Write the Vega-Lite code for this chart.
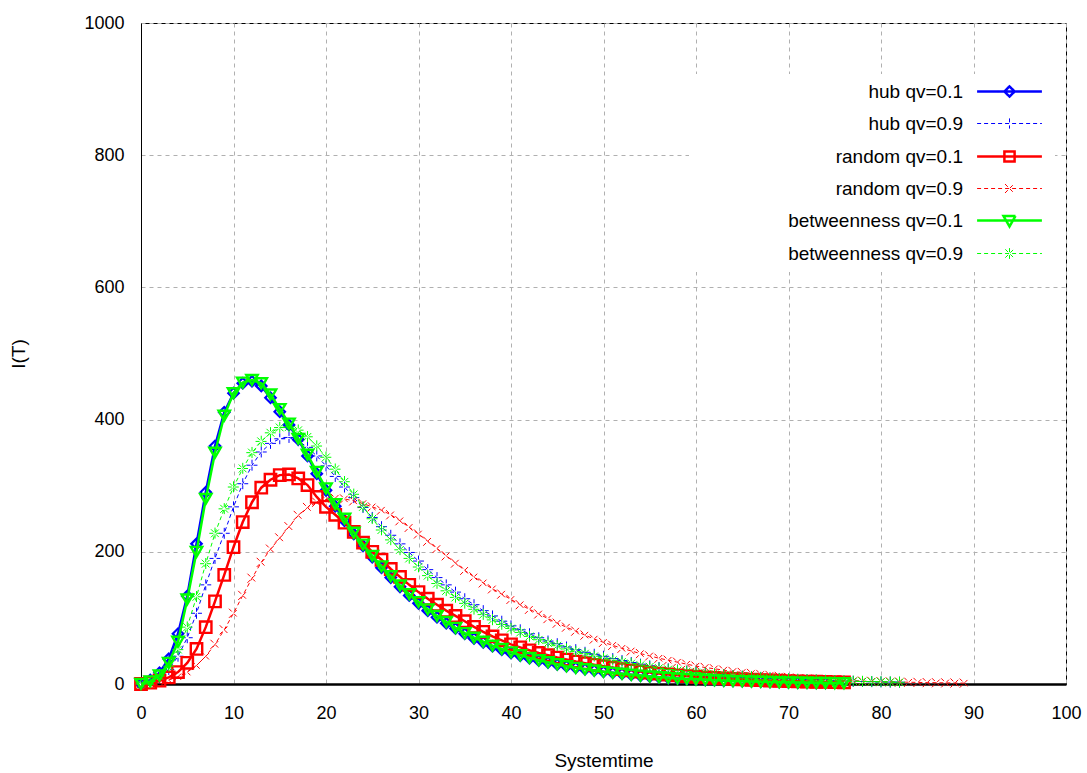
{
  "$schema": "https://vega.github.io/schema/vega-lite/v6.json",
  "width": 925,
  "height": 661,
  "autosize": {"type": "none"},
  "padding": {"left": 141, "top": 23, "right": 21, "bottom": 89},
  "background": "white",
  "config": {
    "view": {"stroke": "#000000", "strokeWidth": 1},
    "font": "Liberation Sans",
    "axis": {
      "labelFont": "Liberation Sans",
      "labelFontSize": 18,
      "labelColor": "#000000",
      "titleFont": "Liberation Sans",
      "titleFontSize": 19,
      "titleFontWeight": "normal",
      "titleColor": "#000000",
      "ticks": false,
      "tickSize": 0,
      "grid": true,
      "gridColor": "#b0b0b0",
      "gridDash": [4, 4],
      "gridWidth": 1,
      "domainColor": "#000000",
      "labelFlush": false
    }
  },
  "data": {
    "values": [
      {"t":0,"h1":0,"h9":0,"r1":0,"r9":0,"b1":0,"b9":0},
      {"t":1,"h1":6,"h9":3,"r1":2,"r9":1,"b1":4,"b9":4},
      {"t":2,"h1":17,"h9":10,"r1":5,"r9":3,"b1":13,"b9":12},
      {"t":3,"h1":38,"h9":22,"r1":10,"r9":6,"b1":32,"b9":27},
      {"t":4,"h1":76,"h9":42,"r1":18,"r9":11,"b1":64,"b9":52},
      {"t":5,"h1":133,"h9":70,"r1":32,"r9":18,"b1":128,"b9":86},
      {"t":6,"h1":212,"h9":107,"r1":53,"r9":28,"b1":200,"b9":132},
      {"t":7,"h1":290,"h9":150,"r1":86,"r9":42,"b1":280,"b9":182},
      {"t":8,"h1":360,"h9":190,"r1":125,"r9":60,"b1":350,"b9":228},
      {"t":9,"h1":411,"h9":228,"r1":165,"r9":82,"b1":406,"b9":265},
      {"t":10,"h1":440,"h9":268,"r1":207,"r9":107,"b1":440,"b9":298},
      {"t":11,"h1":455,"h9":303,"r1":245,"r9":134,"b1":456,"b9":326},
      {"t":12,"h1":458,"h9":331,"r1":275,"r9":160,"b1":460,"b9":350},
      {"t":13,"h1":451,"h9":351,"r1":297,"r9":184,"b1":455,"b9":367},
      {"t":14,"h1":433,"h9":364,"r1":309,"r9":204,"b1":438,"b9":380},
      {"t":15,"h1":412,"h9":371,"r1":316,"r9":221,"b1":416,"b9":388},
      {"t":16,"h1":392,"h9":373,"r1":317,"r9":238,"b1":394,"b9":389},
      {"t":17,"h1":370,"h9":368,"r1":311,"r9":255,"b1":371,"b9":384},
      {"t":18,"h1":345,"h9":358,"r1":301,"r9":267,"b1":347,"b9":374},
      {"t":19,"h1":318,"h9":345,"r1":283,"r9":275,"b1":321,"b9":360},
      {"t":20,"h1":293,"h9":330,"r1":268,"r9":279,"b1":296,"b9":343},
      {"t":21,"h1":269,"h9":314,"r1":256,"r9":281,"b1":272,"b9":325},
      {"t":22,"h1":247,"h9":298,"r1":244,"r9":280,"b1":250,"b9":306},
      {"t":23,"h1":227,"h9":282,"r1":230,"r9":277,"b1":229,"b9":287},
      {"t":24,"h1":209,"h9":267,"r1":214,"r9":273,"b1":211,"b9":268},
      {"t":25,"h1":192,"h9":252,"r1":200,"r9":268,"b1":194,"b9":250},
      {"t":26,"h1":176,"h9":238,"r1":188,"r9":263,"b1":178,"b9":233},
      {"t":27,"h1":161,"h9":225,"r1":174,"r9":256,"b1":163,"b9":218},
      {"t":28,"h1":147,"h9":212,"r1":162,"r9":247,"b1":149,"b9":203},
      {"t":29,"h1":134,"h9":199,"r1":150,"r9":237,"b1":136,"b9":190},
      {"t":30,"h1":122,"h9":186,"r1":139,"r9":227,"b1":124,"b9":177},
      {"t":31,"h1":111,"h9":173,"r1":129,"r9":216,"b1":113,"b9":164},
      {"t":32,"h1":101,"h9":161,"r1":120,"r9":205,"b1":103,"b9":152},
      {"t":33,"h1":92,"h9":150,"r1":111,"r9":194,"b1":94,"b9":141},
      {"t":34,"h1":84,"h9":139,"r1":103,"r9":183,"b1":85,"b9":131},
      {"t":35,"h1":76,"h9":129,"r1":95,"r9":172,"b1":77,"b9":122},
      {"t":36,"h1":69,"h9":120,"r1":86.5,"r9":162,"b1":70,"b9":113},
      {"t":37,"h1":63,"h9":111,"r1":79,"r9":153,"b1":64,"b9":105},
      {"t":38,"h1":57,"h9":103,"r1":72,"r9":144,"b1":58,"b9":97},
      {"t":39,"h1":52,"h9":95,"r1":66,"r9":136,"b1":53,"b9":90},
      {"t":40,"h1":47,"h9":88,"r1":60,"r9":128,"b1":48,"b9":84},
      {"t":41,"h1":43,"h9":82,"r1":55.5,"r9":120,"b1":43.5,"b9":78},
      {"t":42,"h1":39,"h9":76,"r1":51,"r9":113,"b1":39.5,"b9":72},
      {"t":43,"h1":35.5,"h9":70,"r1":47,"r9":106,"b1":36,"b9":67},
      {"t":44,"h1":32.5,"h9":65,"r1":43.5,"r9":99,"b1":33,"b9":62},
      {"t":45,"h1":29.5,"h9":61,"r1":40,"r9":92,"b1":30,"b9":58},
      {"t":46,"h1":27,"h9":56,"r1":37,"r9":86,"b1":27,"b9":53},
      {"t":47,"h1":24.5,"h9":52,"r1":34,"r9":80,"b1":24.5,"b9":49},
      {"t":48,"h1":22.5,"h9":48,"r1":31.5,"r9":74,"b1":22.5,"b9":46},
      {"t":49,"h1":20.5,"h9":45,"r1":29,"r9":68,"b1":20.5,"b9":42},
      {"t":50,"h1":18.5,"h9":42,"r1":27,"r9":63,"b1":18.5,"b9":39},
      {"t":51,"h1":17,"h9":38.5,"r1":24.7,"r9":58.5,"b1":17,"b9":36},
      {"t":52,"h1":15.5,"h9":35.5,"r1":22.5,"r9":54,"b1":15.5,"b9":33.5},
      {"t":53,"h1":14,"h9":32.5,"r1":20.6,"r9":50,"b1":14,"b9":31},
      {"t":54,"h1":12.6,"h9":30,"r1":18.8,"r9":46,"b1":12.7,"b9":28.5},
      {"t":55,"h1":11.4,"h9":27.5,"r1":17.2,"r9":42.5,"b1":11.5,"b9":26},
      {"t":56,"h1":10.3,"h9":25,"r1":15.7,"r9":39,"b1":10.4,"b9":24},
      {"t":57,"h1":9.3,"h9":23,"r1":14.4,"r9":36,"b1":9.4,"b9":22},
      {"t":58,"h1":8.4,"h9":21,"r1":13.1,"r9":33,"b1":8.5,"b9":20.5},
      {"t":59,"h1":7.6,"h9":19.5,"r1":12,"r9":30,"b1":7.7,"b9":19},
      {"t":60,"h1":6.9,"h9":18,"r1":11,"r9":27,"b1":7,"b9":17.5},
      {"t":61,"h1":6.2,"h9":16.5,"r1":10,"r9":25,"b1":6.3,"b9":16},
      {"t":62,"h1":5.6,"h9":15,"r1":9.2,"r9":23,"b1":5.7,"b9":14.8},
      {"t":63,"h1":5.1,"h9":14,"r1":8.4,"r9":21,"b1":5.2,"b9":13.6},
      {"t":64,"h1":4.6,"h9":12.8,"r1":7.7,"r9":19,"b1":4.7,"b9":12.5},
      {"t":65,"h1":4.1,"h9":11.8,"r1":7,"r9":17.5,"b1":4.2,"b9":11.5},
      {"t":66,"h1":3.7,"h9":10.8,"r1":6.4,"r9":16,"b1":3.8,"b9":10.6},
      {"t":67,"h1":3.3,"h9":10,"r1":5.8,"r9":14.5,"b1":3.4,"b9":9.7},
      {"t":68,"h1":3,"h9":9,"r1":5.3,"r9":13,"b1":3.1,"b9":9},
      {"t":69,"h1":2.7,"h9":8.3,"r1":4.9,"r9":11.5,"b1":2.8,"b9":8.2},
      {"t":70,"h1":2.4,"h9":7.6,"r1":4.4,"r9":10,"b1":2.5,"b9":7.5},
      {"t":71,"h1":2.1,"h9":7,"r1":4,"r9":9,"b1":2.2,"b9":6.9},
      {"t":72,"h1":1.9,"h9":6.4,"r1":3.7,"r9":8,"b1":2,"b9":6.3},
      {"t":73,"h1":1.7,"h9":5.9,"r1":3.4,"r9":7.3,"b1":1.8,"b9":5.8},
      {"t":74,"h1":1.5,"h9":5.4,"r1":3.1,"r9":6.6,"b1":1.6,"b9":5.3},
      {"t":75,"h9":5,"r1":2.8,"r9":6,"b1":1.4,"b9":4.9},
      {"t":76,"h9":4.5,"r1":2.6,"r9":5.4,"b1":1.2,"b9":4.5},
      {"t":77,"h9":4.1,"r9":4.9,"b9":4.1},
      {"t":78,"h9":3.8,"r9":4.4,"b9":3.8},
      {"t":79,"h9":3.5,"r9":4,"b9":3.5},
      {"t":80,"h9":3.2,"r9":3.6,"b9":3.2},
      {"t":81,"h9":2.9,"r9":3.3,"b9":2.9},
      {"t":82,"h9":2.7,"r9":3,"b9":2.6},
      {"t":83,"r9":2.7},
      {"t":84,"r9":2.4},
      {"t":85,"r9":2.1},
      {"t":86,"r9":1.9},
      {"t":87,"r9":1.7},
      {"t":88,"r9":1.5},
      {"t":89,"r9":1.3}
    ]
  },
  "transform": [
    {"fold": ["h1", "h9", "r1", "r9", "b1", "b9"], "as": ["s", "v"]},
    {"filter": "isValid(datum.v)"}
  ],
  "encoding": {
    "x": {
      "field": "t",
      "type": "quantitative",
      "scale": {"domain": [0, 100], "nice": false, "zero": false},
      "axis": {
        "values": [0, 10, 20, 30, 40, 50, 60, 70, 80, 90, 100],
        "title": "Systemtime",
        "labelPadding": 20,
        "titlePadding": 29,
        "domainWidth": 2.5
      }
    },
    "y": {
      "field": "v",
      "type": "quantitative",
      "scale": {"domain": [0, 1000], "nice": false},
      "axis": {
        "values": [0, 200, 400, 600, 800, 1000],
        "format": "d",
        "title": "I(T)",
        "labelPadding": 17,
        "titlePadding": 55
      }
    },
    "color": {
      "field": "s",
      "type": "nominal",
      "title": null,
      "scale": {
        "domain": ["h1", "h9", "r1", "r9", "b1", "b9"],
        "range": ["#0000ff", "#0000ff", "#ff0000", "#ff0000", "#00ff00", "#00ff00"]
      },
      "legend": {
        "orient": "none",
        "legendX": 548,
        "legendY": 51,
        "padding": 8,
        "fillColor": "#ffffff",
        "direction": "vertical",
        "labelAlign": "right",
        "labelOffset": -56,
        "symbolOffset": 303,
        "symbolSize": 144,
        "labelLimit": 300,
        "labelFont": "Liberation Sans",
        "labelFontSize": 19,
        "labelColor": "#000000",
        "rowPadding": 12,
        "labelExpr": "({'h1':'hub qv=0.1','h9':'hub qv=0.9','r1':'random qv=0.1','r9':'random qv=0.9','b1':'betweenness qv=0.1','b9':'betweenness qv=0.9'})[datum.value]",
        "encoding": {
          "symbols": {
            "shape": {"value": {"expr": "({'h1':'M-51.7,0M-5.4,0L5.4,0M0,-0.85L0.85,0L0,0.85L-0.85,0Z','h9':'M-51.7,0M-5.4,0L5.4,0M0,-0.85L0,0.85','r1':'M-51.7,0M-5.4,0L5.4,0M-0.85,-0.85L0.85,-0.85L0.85,0.85L-0.85,0.85Z','r9':'M-51.7,0M-5.4,0L5.4,0M-0.75,-0.75L0.75,0.75M-0.75,0.75L0.75,-0.75','b1':'M-51.7,0M-5.4,0L5.4,0M-1,-0.75L1,-0.75L0,1Z','b9':'M-51.7,0M-5.4,0L5.4,0M0,-0.9L0,0.9M-0.7,-0.7L0.7,0.7M-0.7,0.7L0.7,-0.7'})[datum.value]"}},
            "strokeWidth": {"value": {"expr": "indexof(['h9','r9','b9'], datum.value) >= 0 ? 1 : 2.5"}},
            "strokeDash": {"value": {"expr": "indexof(['h9','r9','b9'], datum.value) >= 0 ? [4,3] : [1,0]"}},
            "fill": {"value": "transparent"},
            "opacity": {"value": 1}
          }
        }
      }
    }
  },
  "layer": [
    {
      "transform": [{"filter": {"field": "s", "equal": "h1"}}],
      "mark": {"type": "line", "strokeWidth": 2.5, "point": {"shape": "diamond", "filled": false, "opacity": 1, "size": 110, "strokeWidth": 2.2}}
    },
    {
      "transform": [{"filter": {"field": "s", "equal": "h9"}}],
      "mark": {"type": "line", "strokeWidth": 1, "strokeDash": [4, 3], "point": {"shape": "M0,-1L0,1M-1,0L1,0", "filled": false, "opacity": 1, "size": 120, "strokeWidth": 1, "strokeDash": [4, 3]}}
    },
    {
      "transform": [{"filter": {"field": "s", "equal": "r1"}}],
      "mark": {"type": "line", "strokeWidth": 2.5, "point": {"shape": "square", "filled": false, "opacity": 1, "size": 130, "strokeWidth": 2.4}}
    },
    {
      "transform": [{"filter": {"field": "s", "equal": "r9"}}],
      "mark": {"type": "line", "strokeWidth": 1, "strokeDash": [4, 3], "point": {"shape": "M-0.8,-0.8L0.8,0.8M-0.8,0.8L0.8,-0.8", "filled": false, "opacity": 1, "size": 130, "strokeWidth": 1, "strokeDash": [4, 3]}}
    },
    {
      "transform": [{"filter": {"field": "s", "equal": "b1"}}],
      "mark": {"type": "line", "strokeWidth": 2.5, "point": {"shape": "triangle-down", "filled": false, "opacity": 1, "size": 130, "strokeWidth": 2.4}}
    },
    {
      "transform": [{"filter": {"field": "s", "equal": "b9"}}],
      "mark": {"type": "line", "strokeWidth": 1, "strokeDash": [4, 3], "point": {"shape": "M0,-1L0,1M-1,0L1,0M-0.7,-0.7L0.7,0.7M-0.7,0.7L0.7,-0.7", "filled": false, "opacity": 1, "size": 130, "strokeWidth": 1, "strokeDash": [4, 3]}}
    }
  ]
}
